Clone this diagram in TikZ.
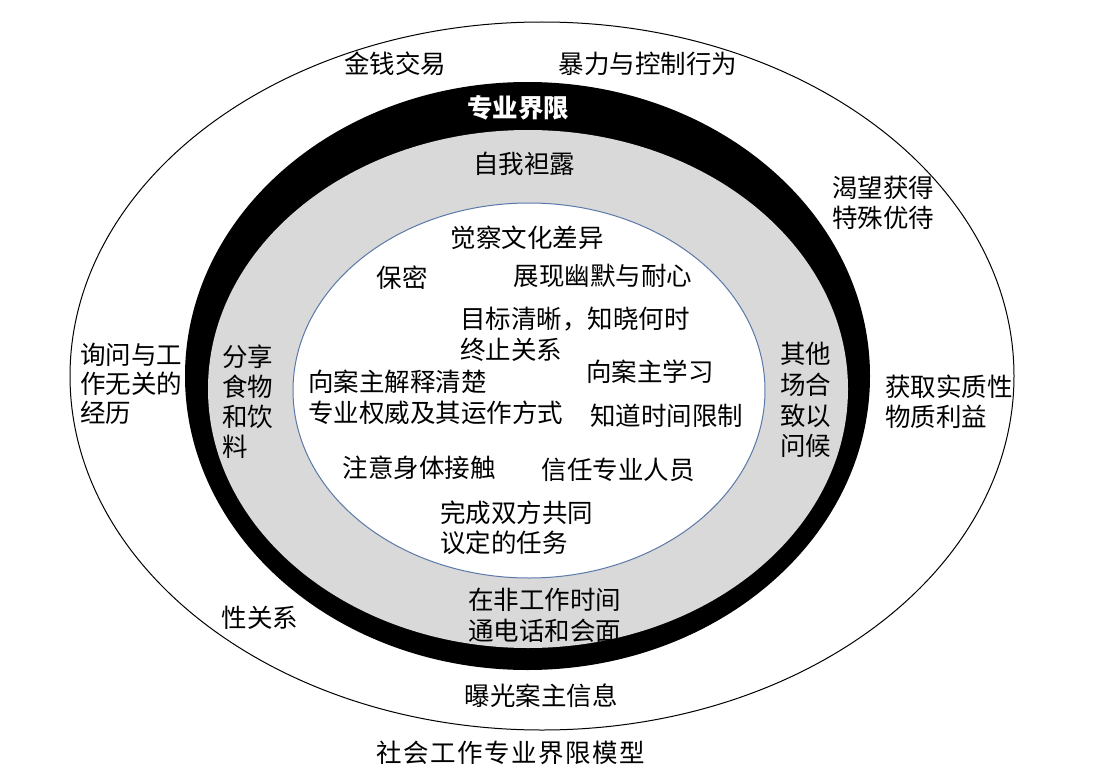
\documentclass[tikz,border=0pt]{standalone}
\usepackage{fontspec}
\setmainfont{Noto Sans CJK SC}
\definecolor{ringgray}{HTML}{D9D9D9}
\definecolor{innerblue}{HTML}{5A78A8}
\begin{document}
\begin{tikzpicture}[x=1pt,y=-1pt,
  lbl/.style={font=\fontsize{25.5pt}{30pt}\selectfont, inner sep=0pt, align=left},
  lblw/.style={lbl, anchor=west}]
\useasboundingbox (0,0) rectangle (1109,768);
\fill[white] (0,0) rectangle (1109,768);
% rings
\draw[line width=1pt, fill=white] (542,376) ellipse [x radius=472, y radius=354];
\fill[black] (527.5,376) ellipse [x radius=342.5, y radius=294];
\fill[ringgray] (528,389) ellipse [x radius=320, y radius=259];
\draw[innerblue, line width=1pt, fill=white] (529,390.5) ellipse [x radius=236, y radius=187.5];
% outer zone
\node[lbl] (jq) at (395,64) {金钱交易};
\node[lbl] (bl) at (648,64) {暴力与控制行为};
\node[lblw] (kw) at (832,202.5) {渴望获得\\特殊优待};
\node[lblw, font=\fontsize{25.5pt}{29pt}\selectfont] (xw) at (80,384) {询问与工\\作无关的\\经历};
\node[lblw] (hq) at (885,402) {获取实质性\\物质利益};
\node[lbl] (xg) at (260,618) {性关系};
\node[lbl] (bg) at (541,696) {曝光案主信息};
% boundary
\node[lbl, font=\fontsize{25.5pt}{30pt}\selectfont\bfseries, text=white] (zy) at (518,108) {专业界限};
% gray zone
\node[lbl] (zw) at (524,164) {自我袒露};
\node[lblw] (fx) at (222,402) {分享\\食物\\和饮\\料};
\node[lblw, font=\fontsize{25.5pt}{30.7pt}\selectfont] (qt) at (780,400) {其他\\场合\\致以\\问候};
\node[lblw, font=\fontsize{25.5pt}{31pt}\selectfont] (zf) at (468,615.5) {在非工作时间\\通电话和会面};
% inner zone
\node[lbl] (jc) at (527,238) {觉察文化差异};
\node[lbl] (bm) at (402,278) {保密};
\node[lbl] (zx) at (603,276) {展现幽默与耐心};
\node[lblw, font=\fontsize{25.5pt}{31pt}\selectfont] (mb) at (460,334.5) {目标清晰，知晓何时\\终止关系};
\node[lbl] (xa) at (650,372) {向案主学习};
\node[lblw, font=\fontsize{25.5pt}{31pt}\selectfont] (js) at (308,397.5) {向案主解释清楚\\专业权威及其运作方式};
\node[lbl] (zd) at (666.5,416) {知道时间限制};
\node[lbl] (zy2) at (419,468) {注意身体接触};
\node[lbl] (xr) at (618,470) {信任专业人员};
\node[lblw] (wc) at (440,528) {完成双方共同\\议定的任务};
% title
\node[lbl, font=\fontsize{25.5pt}{30pt}\selectfont\addfontfeatures{LetterSpace=6}] (tt) at (511,753) {社会工作专业界限模型};
\end{tikzpicture}
\end{document}
